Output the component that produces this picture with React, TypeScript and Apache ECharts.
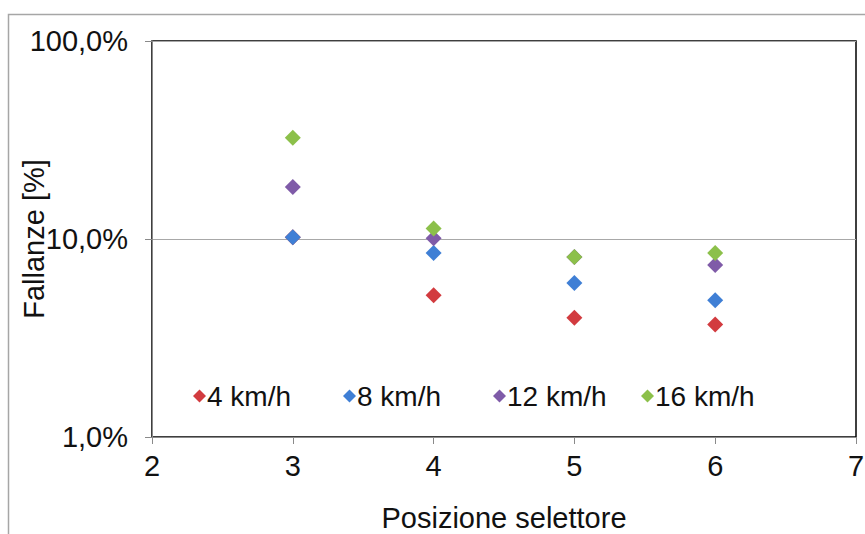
import React, { useEffect, useRef } from "react";
import * as echarts from "echarts";

const positions = [3, 4, 5, 6];
const seriesNames = ["4 km/h", "8 km/h", "12 km/h", "16 km/h"];
const v4 = [10.2, 5.2, 4.0, 3.7];
const v8 = [10.2, 8.5, 6.0, 4.9];
const v12 = [18.3, 10.1, 8.1, 7.4];
const v16 = [32.5, 11.3, 8.1, 8.5];
const colors = ["#d23b3f", "#3f7fd5", "#7f5ba8", "#8cc04a"];
const legendLeft = [193, 343, 493, 641];
const yAxisTitle = "Fallanze [%]";
const xAxisTitle = "Posizione selettore";

const FONT = "Liberation Sans, Arial, sans-serif";

export default function App() {
  const ref = useRef<HTMLDivElement>(null);
  useEffect(() => {
    const chart = echarts.init(ref.current!, null, { renderer: "svg" });
    const all = [v4, v8, v12, v16];
    chart.setOption({
      animation: false,
      backgroundColor: "#ffffff",
      graphic: [
        {
          type: "rect",
          shape: { x: 8.5, y: 14.5, width: 880, height: 560 },
          style: { fill: "none", stroke: "#a6a6a6", lineWidth: 1.5 },
          silent: true,
          z: -10,
        },
        {
          type: "text",
          x: 34,
          y: 239,
          rotation: Math.PI / 2,
          style: {
            text: yAxisTitle,
            fontSize: 29,
            fontFamily: FONT,
            fill: "#111",
            align: "center",
            verticalAlign: "middle",
          },
          silent: true,
        },
      ],
      grid: {
        left: 152,
        top: 41,
        right: 9,
        bottom: 97,
        containLabel: false,
        outerBoundsMode: "none",
        show: true,
        borderColor: "#000",
        borderWidth: 1.5,
        backgroundColor: "transparent",
      },
      legend: seriesNames.map((n, i) => ({
        show: true,
        data: [{ name: n, icon: "diamond" }],
        left: legendLeft[i],
        top: 382,
        itemWidth: 13,
        itemHeight: 13,
        itemGap: 0,
        padding: 0,
        textStyle: { fontSize: 28, fontFamily: FONT, color: "#111", padding: [0, 0, 0, -4] },
      })),
      xAxis: {
        type: "value",
        min: 2,
        max: 7,
        interval: 1,
        name: xAxisTitle,
        nameLocation: "middle",
        nameGap: 66,
        nameTextStyle: { fontSize: 29, fontFamily: FONT, color: "#111" },
        axisLine: { show: true, lineStyle: { color: "#8a8a8a", width: 1 } },
        axisTick: { show: true, length: 7, inside: false, lineStyle: { color: "#8a8a8a" } },
        axisLabel: { fontSize: 29, fontFamily: FONT, color: "#111", margin: 14 },
        splitLine: { show: false },
      },
      yAxis: {
        type: "log",
        logBase: 10,
        min: 1,
        max: 100,
        axisLine: { show: true, lineStyle: { color: "#8a8a8a", width: 1 } },
        axisTick: { show: true, length: 7, inside: false, lineStyle: { color: "#8a8a8a" } },
        axisLabel: {
          fontSize: 29,
          fontFamily: FONT,
          color: "#111",
          margin: 24,
          formatter: (v: number) => v.toFixed(1).replace(".", ",") + "%",
        },
        splitLine: { show: true, lineStyle: { color: "#a8a8a8", width: 1 } },
      },
      series: seriesNames.map((n, i) => ({
        name: n,
        type: "scatter",
        symbol: "diamond",
        symbolSize: 16,
        itemStyle: { color: colors[i], opacity: 1 },
        data: positions.map((p, j) => [p, all[i][j]]),
      })),
    });
    return () => chart.dispose();
  }, []);
  return (
    <div
      ref={ref}
      style={{ position: "absolute", left: 0, top: 0, width: 865, height: 534 }}
    />
  );
}
